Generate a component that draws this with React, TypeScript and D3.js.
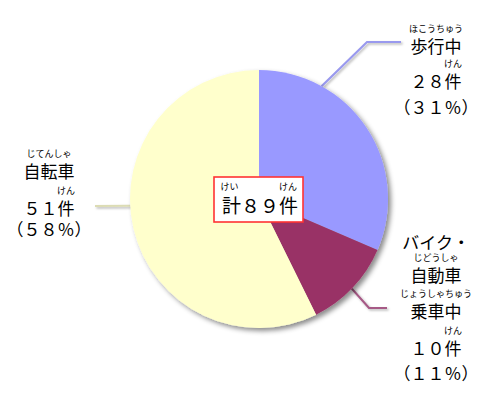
import * as d3 from 'd3';

// chart data
const categories = ['歩行中', 'バイク・自動車乗車中', '自転車'];
const counts = [28, 10, 51];
const percents = [31, 11, 58];
const total = 89;

const sliceColors = ['#9999ff', '#993366', '#ffffcc'];
const leaderColors = ['#9999ee', '#a65a86', '#dcdcb4'];

const width = 500;
const height = 400;
const cx = 259;
const cy = 199;
const radius = 129;

const toFull = (s: string) =>
  s.replace(/[0-9%()]/g, c => String.fromCharCode(c.charCodeAt(0) + 0xfee0));

interface Line {
  text: string;
  y: number;
  ruby?: string;
  rubyChar?: number; // index of char the ruby sits over (-1 = whole line)
}

// label lines (text with furigana) for each slice
const labelLines: Line[][] = [
  [
    { text: '歩行中', y: 45, ruby: 'ほこうちゅう', rubyChar: -1 },
    { text: toFull(`${counts[0]}`) + '件', y: 80, ruby: 'けん', rubyChar: 2 },
    { text: toFull(`(${percents[0]}%)`), y: 106 },
  ],
  [
    { text: 'バイク・', y: 241 },
    { text: '自動車', y: 274, ruby: 'じどうしゃ', rubyChar: -1 },
    { text: '乗車中', y: 310, ruby: 'じょうしゃちゅう', rubyChar: -1 },
    { text: toFull(`${counts[1]}`) + '件', y: 347, ruby: 'けん', rubyChar: 2 },
    { text: toFull(`(${percents[1]}%)`), y: 372 },
  ],
  [
    { text: '自転車', y: 170, ruby: 'じてんしゃ', rubyChar: -1 },
    { text: toFull(`${counts[2]}`) + '件', y: 207, ruby: 'けん', rubyChar: 2 },
    { text: toFull(`(${percents[2]}%)`), y: 228 },
  ],
];
const labelX = [436, 436, 49];

// leader lines: angle on the rim (deg), then elbow + end points
const leaderAngles = [29, 134, 267];
const leaderPaths: [number, number][][] = [
  [[367, 42], [401, 42]],
  [[369, 308], [387, 308]],
  [[95, 206]],
];

const font = '"Noto Sans CJK JP", "Noto Sans", sans-serif';
const mainSize = 17;
const rubySize = 9;

export default function App() {
  const pie = d3.pie<number>().sort(null).value(d => d);
  const arcs = pie(counts);
  const arc = d3.arc<d3.PieArcDatum<number>>().innerRadius(0).outerRadius(radius);
  const line = d3.line();

  const rim = (deg: number): [number, number] => {
    const a = (deg * Math.PI) / 180;
    return [cx + radius * Math.sin(a), cy - radius * Math.cos(a)];
  };

  return (
    <svg
      width={width}
      height={height}
      style={{ position: 'fixed', left: 0, top: 0, background: '#fff' }}
      fontFamily={font}
    >
      <defs>
        <filter id="shadow" x="-20%" y="-20%" width="140%" height="140%">
          <feDropShadow dx="3" dy="3" stdDeviation="2.5" floodColor="#000" floodOpacity="0.45" />
        </filter>
        <filter id="lineShadow" x="-20%" y="-50%" width="140%" height="200%">
          <feDropShadow dx="1.5" dy="1.5" stdDeviation="1" floodColor="#000" floodOpacity="0.3" />
        </filter>
      </defs>

      <g filter="url(#lineShadow)">
        {leaderAngles.map((deg, i) => (
          <path
            key={categories[i]}
            d={line([rim(deg), ...leaderPaths[i]]) || ''}
            fill="none"
            stroke={leaderColors[i]}
            strokeWidth={2.2}
          />
        ))}
      </g>

      <g transform={`translate(${cx},${cy})`} filter="url(#shadow)">
        {arcs.map((d, i) => (
          <path key={categories[i]} d={arc(d) || ''} fill={sliceColors[i]} />
        ))}
      </g>

      {labelLines.map((lines, i) => (
        <g key={categories[i]}>
          {lines.map((ln, j) => {
            const charCount = Array.from(ln.text).length;
            const rubyX =
              ln.rubyChar === undefined || ln.rubyChar < 0
                ? labelX[i]
                : labelX[i] + (ln.rubyChar - (charCount - 1) / 2) * mainSize;
            return (
              <g key={j}>
                {ln.ruby && (
                  <text
                    x={rubyX}
                    y={ln.y - 16.5}
                    fontSize={rubySize}
                    textAnchor="middle"
                    dominantBaseline="central"
                  >
                    {ln.ruby}
                  </text>
                )}
                <text
                  x={labelX[i]}
                  y={ln.y}
                  fontSize={mainSize}
                  textAnchor="middle"
                  dominantBaseline="central"
                >
                  {ln.text}
                </text>
              </g>
            );
          })}
        </g>
      ))}

      {/* total box in the middle */}
      <g>
        <rect x={214} y={177} width={89} height={45} fill="#fff" stroke="#ff3333" strokeWidth={1.6} />
        <text x={229.5} y={186} fontSize={rubySize} textAnchor="middle" dominantBaseline="central">
          けい
        </text>
        <text x={288} y={186} fontSize={rubySize} textAnchor="middle" dominantBaseline="central">
          けん
        </text>
        <text x={260} y={204} fontSize={19} textAnchor="middle" dominantBaseline="central">
          {'計' + toFull(`${total}`) + '件'}
        </text>
      </g>
    </svg>
  );
}
